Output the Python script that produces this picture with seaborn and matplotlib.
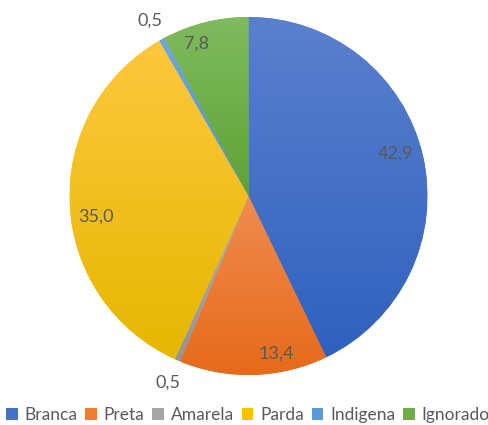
"""
Pie chart: distribution by race/colour (%), Excel-like gradient slices.
"""

import numpy as np
import matplotlib
matplotlib.use('Agg')
import matplotlib.pyplot as plt
import matplotlib.colors as mcolors
from matplotlib.patches import Patch
import seaborn as sns

# ── Data ────────────────────────────────────────────────────────────────────
categories = ['Branca', 'Preta', 'Amarela', 'Parda', 'Indigena', 'Ignorado']
values = [42.9, 13.4, 0.5, 35.0, 0.5, 7.8]
value_labels = ['42,9', '13,4', '0,5', '35,0', '0,5', '7,8']

# top / bottom colours of each slice gradient
top_colors = ['#5b80cd', '#f08c50', '#b2b2b2', '#fdc83e', '#6fa8de', '#80bb5f']
bottom_colors = ['#2f61bf', '#e66a1a', '#939393', '#e5b700', '#4a8fd0', '#5ea234']
legend_colors = ['#4472C4', '#ED7D31', '#A5A5A5', '#FFC000', '#5B9BD5', '#70AD47']

# label placement (x, y in units of the pie radius), Excel "best fit"
label_pos = [(0.82, 0.235), (0.155, -0.88), (-0.447, -1.045),
             (-0.855, -0.115), (-0.55, 0.98), (-0.29, 0.85)]

# ── Style ──────────────────────────────────────────────────────────────────
sns.set_theme(style='white')
plt.rcParams['font.family'] = ['Lato', 'DejaVu Sans']
TEXT_COLOR = '#595959'

W, H = 489, 425
fig = plt.figure(figsize=(W / 100, H / 100), dpi=100)
cx, cy, r = 248.5, 196, 179
ax = fig.add_axes([(cx - r) / W, (H - cy - r) / H, 2 * r / W, 2 * r / H])

wedges, _ = ax.pie(values, startangle=90, counterclock=False, radius=1,
                   colors=legend_colors, wedgeprops={'linewidth': 0})

# vertical gradient inside each slice
grad = np.linspace(0, 1, 256).reshape(-1, 1)
for w, c_top, c_bot in zip(wedges, top_colors, bottom_colors):
    t = np.radians(np.linspace(w.theta1, w.theta2, 200))
    xs = np.concatenate([[0], np.cos(t)])
    ys = np.concatenate([[0], np.sin(t)])
    cmap = mcolors.LinearSegmentedColormap.from_list('g', [c_bot, c_top])
    im = ax.imshow(grad, cmap=cmap, origin='lower', aspect='auto',
                   extent=[xs.min(), xs.max(), ys.min(), ys.max()],
                   interpolation='bilinear', zorder=2)
    im.set_clip_path(w)

for (x, y), lab in zip(label_pos, value_labels):
    ax.text(x, y, lab, ha='center', va='center', fontsize=13,
            color=TEXT_COLOR, zorder=5)

ax.set_xlim(-1, 1)
ax.set_ylim(-1, 1)
ax.set_aspect('auto')
ax.axis('off')

handles = [Patch(facecolor=c, edgecolor='none') for c in legend_colors]
fig.legend(handles, categories, loc='center', bbox_to_anchor=(0.507, 0.024),
           ncol=6, frameon=False, fontsize=12.5, handlelength=0.66,
           handleheight=0.66, handletextpad=0.4, columnspacing=0.45,
           borderpad=0.1, labelcolor=TEXT_COLOR)

fig.savefig('out.png', dpi=100)
